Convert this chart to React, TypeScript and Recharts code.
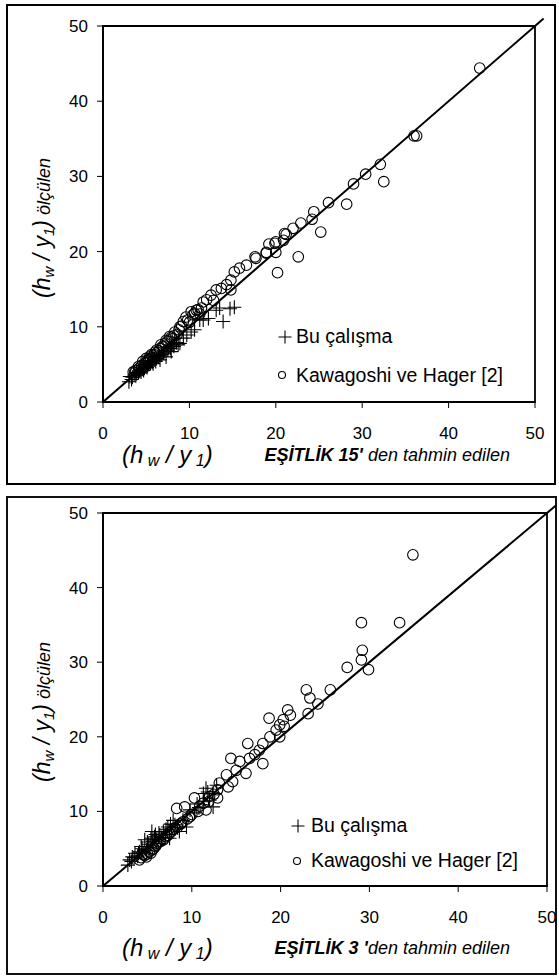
import React from 'react';
import {
  ScatterChart,
  Scatter,
  XAxis,
  YAxis,
  ReferenceLine,
  ReferenceArea,
} from 'recharts';

const FONT = "'Liberation Sans', Arial, Helvetica, sans-serif";

const axisTicks = [0, 10, 20, 30, 40, 50];

// EŞİTLİK 15 - Bu çalışma (x: tahmin, y: ölçülen)
const eq15BuCalisma = [
  [3.0, 2.7], [3.1, 3.4], [3.3, 3.0], [3.4, 3.3], [3.6, 3.6], [3.8, 3.5], [3.9, 3.8],
  [4.1, 3.9], [4.2, 4.1], [4.3, 4.2], [4.4, 4.0], [4.6, 4.4], [4.7, 4.2], [4.8, 4.5],
  [5.0, 4.7], [5.1, 4.6], [5.2, 4.9], [5.3, 5.1], [5.5, 5.2], [5.6, 5.5], [5.7, 5.3],
  [5.8, 5.1], [6.0, 5.6], [6.1, 5.4], [6.2, 5.8], [6.4, 6.0], [6.5, 6.2], [6.6, 5.6],
  [6.8, 6.3], [7.0, 6.5], [7.1, 6.7], [7.3, 6.0], [7.5, 6.9], [7.6, 7.2], [7.8, 7.1],
  [7.9, 6.7], [8.0, 7.6], [8.2, 7.4], [8.5, 7.9], [8.7, 7.6], [8.9, 7.8], [9.3, 8.5],
  [9.7, 8.9], [10.2, 9.3], [10.6, 9.6], [11.2, 10.9], [11.6, 10.9], [12.2, 11.1], [13.1, 12.2],
  [13.5, 12.5], [13.9, 10.7], [14.7, 12.4], [15.2, 12.6],
];

// EŞİTLİK 15 - Kawagoshi ve Hager [2]
const eq15Kawagoshi = [
  [3.5, 4.0], [3.7, 3.9], [3.8, 4.2], [4.1, 4.7], [4.2, 4.5], [4.4, 4.3], [4.5, 4.9],
  [4.6, 5.4], [4.8, 4.8], [4.9, 5.2], [5.0, 5.8], [5.1, 5.5], [5.2, 5.3], [5.3, 5.6],
  [5.4, 6.0], [5.5, 5.8], [5.6, 6.3], [5.8, 5.9], [5.9, 6.3], [6.0, 6.6], [6.2, 6.9],
  [6.3, 6.6], [6.5, 6.8], [6.6, 7.1], [6.7, 7.6], [6.9, 7.4], [7.0, 7.3], [7.2, 7.8],
  [7.3, 8.2], [7.5, 8.1], [7.7, 8.7], [7.9, 8.6], [8.0, 8.4], [8.2, 8.8], [8.3, 9.3],
  [8.6, 9.0], [8.8, 9.6], [8.9, 10.0], [9.1, 10.1], [9.3, 10.7], [9.6, 11.3], [9.8, 10.9],
  [10.0, 10.6], [10.2, 12.0], [10.4, 11.6], [10.6, 11.8], [10.8, 12.2], [11.0, 12.3], [11.2, 11.7],
  [11.4, 12.5], [11.6, 13.3], [12.0, 13.6], [12.5, 14.2], [12.8, 13.5], [13.1, 14.9], [13.7, 15.1],
  [14.3, 15.6], [14.8, 16.2], [14.8, 14.9], [15.2, 17.3], [15.8, 17.8], [16.6, 18.2], [17.6, 19.3],
  [17.7, 19.1], [18.9, 19.8], [18.9, 19.9], [19.2, 21.0], [19.9, 21.1], [20.0, 19.9], [20.0, 21.3],
  [20.2, 17.2], [20.9, 21.5], [21.0, 22.4], [21.2, 22.3], [22.0, 23.1], [22.6, 19.3], [22.9, 23.8],
  [24.2, 24.3], [24.4, 25.3], [25.2, 22.6], [26.1, 26.5], [28.2, 26.3], [29.0, 29.0], [30.4, 30.3],
  [32.1, 31.6], [32.5, 29.3], [36.0, 35.4], [36.3, 35.4], [43.6, 44.4],
];

// EŞİTLİK 3 - Bu çalışma
const eq3BuCalisma = [
  [2.8, 2.8], [3.0, 3.5], [3.2, 3.3], [3.3, 3.9], [3.5, 3.8], [3.6, 4.4], [3.9, 4.0],
  [4.0, 4.4], [4.1, 4.6], [4.3, 5.3], [4.4, 5.0], [4.5, 4.5], [4.7, 6.2], [4.9, 4.8],
  [5.0, 5.9], [5.1, 5.6], [5.3, 5.2], [5.4, 6.4], [5.5, 7.3], [5.6, 6.0], [5.8, 6.6],
  [5.9, 6.9], [6.0, 6.2], [6.2, 5.7], [6.3, 7.1], [6.4, 6.8], [6.6, 6.5], [6.8, 7.3],
  [7.0, 6.9], [7.1, 7.6], [7.3, 7.9], [7.5, 6.4], [7.6, 8.3], [7.7, 7.5], [7.9, 8.8],
  [8.1, 8.2], [8.4, 7.8], [8.6, 7.3], [9.0, 8.8], [9.4, 7.9], [9.8, 10.2], [10.3, 9.8],
  [10.6, 11.0], [10.8, 10.5], [11.3, 11.3], [11.3, 12.4], [11.6, 13.1], [11.8, 12.6], [12.0, 11.5],
  [12.4, 10.6], [12.4, 12.4], [12.8, 13.5],
];

// EŞİTLİK 3 - Kawagoshi ve Hager [2]
const eq3Kawagoshi = [
  [4.1, 3.5], [4.3, 3.8], [4.5, 4.2], [4.7, 4.1], [4.9, 3.9], [5.0, 4.3], [5.2, 4.6],
  [5.4, 4.4], [5.5, 4.8], [5.7, 5.0], [5.9, 5.3], [6.0, 5.5], [6.1, 5.7], [6.3, 5.9],
  [6.5, 6.0], [6.8, 6.2], [7.1, 6.6], [7.3, 6.8], [7.5, 7.1], [7.7, 7.3], [7.9, 7.6],
  [8.1, 7.8], [8.4, 7.9], [8.3, 10.4], [8.7, 8.3], [8.8, 8.4], [9.0, 8.6], [9.2, 10.6],
  [9.5, 9.0], [9.8, 9.3], [10.0, 9.6], [10.3, 11.8], [10.7, 10.0], [10.9, 10.7], [11.3, 11.1],
  [11.6, 10.2], [11.9, 11.3], [12.0, 12.0], [12.5, 12.3], [12.9, 11.8], [12.9, 12.9], [13.1, 13.8],
  [13.9, 14.9], [14.1, 13.3], [14.4, 17.1], [14.6, 14.0], [15.0, 15.5], [15.4, 16.7], [16.1, 15.1],
  [16.3, 19.1], [16.5, 17.1], [17.1, 17.6], [17.6, 18.2], [18.0, 19.1], [18.0, 16.4], [18.7, 22.5],
  [18.8, 20.0], [19.5, 20.9], [19.9, 20.0], [19.9, 21.6], [20.3, 22.3], [20.4, 21.4], [20.8, 23.6],
  [21.1, 22.9], [22.9, 26.3], [23.1, 23.1], [23.3, 25.2], [24.2, 24.4], [25.6, 26.3], [27.5, 29.3],
  [29.1, 30.3], [29.2, 31.6], [29.1, 35.3], [29.9, 29.0], [33.4, 35.3], [34.9, 44.4],
];

const toPoints = (arr: number[][]) => arr.map(([x, y]) => ({ x, y }));

const CrossShape = (props: any) => {
  const { cx, cy } = props;
  const s = 7;
  return (
    <path
      d={`M${cx - s},${cy}H${cx + s}M${cx},${cy - s}V${cy + s}`}
      stroke="#000"
      strokeWidth={1.1}
      fill="none"
    />
  );
};

const CircleShape = (props: any) => {
  const { cx, cy } = props;
  return <circle cx={cx} cy={cy} r={5.3} fill="none" stroke="#000" strokeWidth={1.1} />;
};

interface PanelProps {
  top: number;
  height: number;
  margin: { top: number; right: number; bottom: number; left: number };
  bu: number[][];
  kawagoshi: number[][];
}

const Panel: React.FC<PanelProps> = ({ top, height, margin, bu, kawagoshi }) => (
  <div style={{ position: 'absolute', left: 0, top, width: 559, height }}>
    <ScatterChart width={559} height={height} margin={margin}>
      <XAxis
        type="number"
        dataKey="x"
        domain={[0, 50]}
        ticks={axisTicks}
        allowDataOverflow
        height={30}
        axisLine={{ stroke: '#000', strokeWidth: 2 }}
        tickLine={{ stroke: '#000', strokeWidth: 1 }}
        tickSize={6}
        tickMargin={19}
        tick={{ fontSize: 17, fill: '#000', fontFamily: FONT }}
      />
      <YAxis
        type="number"
        dataKey="y"
        domain={[0, 50]}
        ticks={axisTicks}
        allowDataOverflow
        width={60}
        axisLine={{ stroke: '#000', strokeWidth: 2 }}
        tickLine={{ stroke: '#000', strokeWidth: 1 }}
        tickSize={6}
        tickMargin={9}
        tick={{ fontSize: 17, fill: '#000', fontFamily: FONT }}
      />
      <ReferenceArea
        x1={0}
        x2={50}
        y1={0}
        y2={50}
        fill="none"
        stroke="#000"
        strokeWidth={1.8}
        ifOverflow="visible"
      />
      <Scatter data={toPoints(kawagoshi)} shape={CircleShape} isAnimationActive={false} />
      <Scatter data={toPoints(bu)} shape={CrossShape} isAnimationActive={false} />
      <ReferenceLine
        segment={[{ x: 0, y: 0 }, { x: 51, y: 51 }]}
        stroke="#000"
        strokeWidth={2}
        ifOverflow="visible"
      />
    </ScatterChart>
  </div>
);

interface TextsProps {
  yTitleX: number;
  yTitleY: number;
  xTitleY: number;
  eqName: string;
  legendCross: [number, number];
  legendCircle: [number, number];
  legendTextX: number;
  legendY1: number;
  legendY2: number;
}

const PanelTexts: React.FC<TextsProps> = ({
  yTitleX,
  yTitleY,
  xTitleY,
  eqName,
  legendCross,
  legendCircle,
  legendTextX,
  legendY1,
  legendY2,
}) => (
  <g fontFamily={FONT} fill="#000">
    <text
      transform={`translate(${yTitleX},${yTitleY}) rotate(-90)`}
      textAnchor="middle"
      fontStyle="italic"
    >
      <tspan fontSize={23}>(h</tspan>
      <tspan fontSize={15} dy={4}>w</tspan>
      <tspan fontSize={23} dy={-4}> /  y</tspan>
      <tspan fontSize={15} dy={4}>1</tspan>
      <tspan fontSize={23} dy={-4}>)</tspan>
      <tspan fontSize={18}> ölçülen</tspan>
    </text>
    <text x={122} y={xTitleY} fontStyle="italic">
      <tspan fontSize={24}>(h</tspan>
      <tspan fontSize={16} dy={3}> w</tspan>
      <tspan fontSize={24} dy={-3}> / y</tspan>
      <tspan fontSize={16} dy={3}> 1</tspan>
      <tspan fontSize={24} dy={-3}>)</tspan>
    </text>
    <text x={510} y={xTitleY - 2} textAnchor="end" fontStyle="italic" fontSize={18}>
      <tspan fontWeight="bold">{eqName}</tspan>
      <tspan>den tahmin edilen</tspan>
    </text>
    <path
      d={`M${legendCross[0] - 6.5},${legendCross[1]}H${legendCross[0] + 6.5}M${legendCross[0]},${legendCross[1] - 6.5}V${legendCross[1] + 6.5}`}
      stroke="#000"
      strokeWidth={1.1}
    />
    <circle cx={legendCircle[0]} cy={legendCircle[1]} r={3.5} fill="none" stroke="#000" strokeWidth={1.1} />
    <text x={legendTextX} y={legendY1} fontSize={19.5}>Bu çalışma</text>
    <text x={legendTextX} y={legendY2} fontSize={19.5}>Kawagoshi ve Hager [2]</text>
  </g>
);

export default function App() {
  return (
    <div style={{ position: 'absolute', left: 0, top: 0, width: 559, height: 976, background: '#fff' }}>
      <style>{'body{margin:0;}'}</style>
      <div
        style={{
          position: 'absolute',
          left: 6,
          top: 4,
          width: 550,
          height: 481,
          border: '2px solid #000',
          boxSizing: 'border-box',
        }}
      />
      <div
        style={{
          position: 'absolute',
          left: 6,
          top: 496,
          width: 551,
          height: 479,
          border: '2px solid #111',
          boxSizing: 'border-box',
        }}
      />
      <Panel
        top={0}
        height={488}
        margin={{ top: 26, right: 24, bottom: 56, left: 43 }}
        bu={eq15BuCalisma}
        kawagoshi={eq15Kawagoshi}
      />
      <Panel
        top={490}
        height={486}
        margin={{ top: 23, right: 12, bottom: 60, left: 43 }}
        bu={eq3BuCalisma}
        kawagoshi={eq3Kawagoshi}
      />
      <svg
        width={559}
        height={976}
        style={{ position: 'absolute', left: 0, top: 0, pointerEvents: 'none' }}
      >
        <PanelTexts
          yTitleX={50}
          yTitleY={228}
          xTitleY={463}
          eqName="EŞİTLİK 15' "
          legendCross={[285, 337]}
          legendCircle={[282, 375]}
          legendTextX={296}
          legendY1={343}
          legendY2={382}
        />
        <PanelTexts
          yTitleX={50}
          yTitleY={712}
          xTitleY={956}
          eqName="EŞİTLİK 3 '"
          legendCross={[298, 826]}
          legendCircle={[297, 861]}
          legendTextX={311}
          legendY1={832}
          legendY2={867}
        />
      </svg>
    </div>
  );
}
